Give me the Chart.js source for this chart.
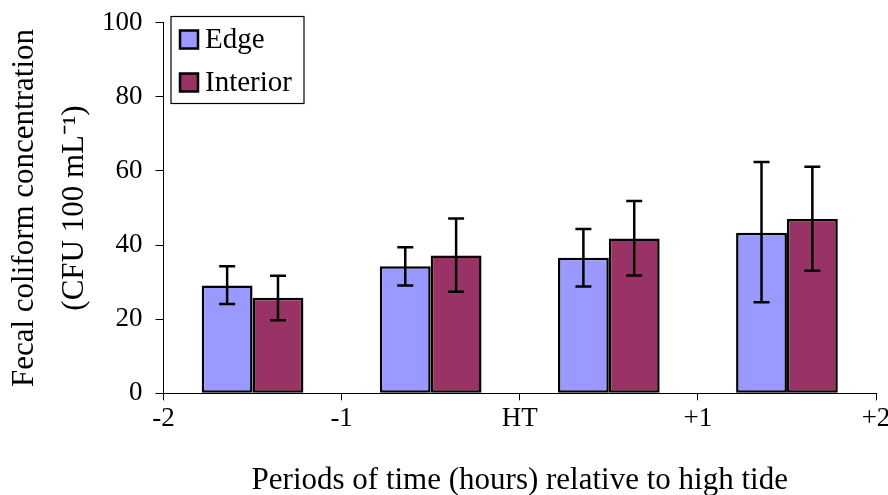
<!DOCTYPE html>
<html>
<head>
<meta charset="utf-8">
<script src="https://cdn.jsdelivr.net/npm/chart.js@4/dist/chart.umd.min.js"></script>
<style>
html,body{margin:0;padding:0;background:#fff;}
#wrap{width:888px;height:495px;position:relative;}
</style>
</head>
<body>
<div id="wrap"><canvas id="c" width="888" height="495"></canvas></div>
<script>
const categories = ['-2 to -1', '-1 to HT', 'HT to +1', '+1 to +2'];
const tickLabels = ['-2', '-1', 'HT', '+1', '+2'];
const edgeValues = [29.1, 34.3, 36.6, 43.3];
const edgeLow = [24.1, 29.1, 28.8, 24.6];
const edgeHigh = [34.3, 39.4, 44.3, 62.4];
const interiorValues = [25.8, 37.2, 41.8, 47.0];
const interiorLow = [19.7, 27.4, 31.8, 33.1];
const interiorHigh = [31.7, 47.2, 51.9, 61.1];
const seriesNames = ['Edge', 'Interior'];
const yTitle = ['Fecal coliform concentration', '(CFU 100 mL\u207B\u00B9)'];
const xTitle = 'Periods of time (hours) relative to high tide';

const FONT = "'Liberation Serif', 'Times New Roman', serif";

const errorBars = {
  id: 'errorBars',
  afterDatasetsDraw(chart) {
    const ctx = chart.ctx;
    const y = chart.scales.y;
    const ranges = [[edgeLow, edgeHigh], [interiorLow, interiorHigh]];
    ctx.save();
    ctx.strokeStyle = '#000';
    ctx.lineWidth = 2.5;
    ranges.forEach((r, di) => {
      const meta = chart.getDatasetMeta(di);
      meta.data.forEach((bar, i) => {
        const x = bar.x;
        const yl = y.getPixelForValue(r[0][i]);
        const yh = y.getPixelForValue(r[1][i]);
        ctx.beginPath();
        ctx.moveTo(x, yl); ctx.lineTo(x, yh);
        ctx.moveTo(x - 8, yl); ctx.lineTo(x + 8, yl);
        ctx.moveTo(x - 8, yh); ctx.lineTo(x + 8, yh);
        ctx.stroke();
      });
    });
    ctx.restore();
  }
};

const boxLegend = {
  id: 'boxLegend',
  afterDraw(chart) {
    const ctx = chart.ctx;
    ctx.save();
    ctx.strokeStyle = '#000';
    ctx.lineWidth = 1.2;
    ctx.fillStyle = '#fff';
    ctx.fillRect(171, 16.5, 133, 87);
    ctx.strokeRect(171, 16.5, 133, 87);
    const rows = [39.5, 82.5];
    chart.data.datasets.forEach((ds, i) => {
      const cy = rows[i];
      ctx.fillStyle = ds.backgroundColor;
      ctx.fillRect(180, cy - 9, 18, 18);
      ctx.lineWidth = 2.5;
      ctx.strokeRect(180, cy - 9, 18, 18);
      ctx.fillStyle = '#000';
      ctx.font = "29px " + FONT;
      ctx.textBaseline = 'middle';
      ctx.textAlign = 'left';
      ctx.fillText(ds.label, 205, cy + 1);
    });
    ctx.restore();
  }
};

new Chart(document.getElementById('c'), {
  type: 'bar',
  data: {
    labels: categories,
    datasets: [
      { label: seriesNames[0], data: edgeValues, backgroundColor: '#9999ff', borderColor: '#000', borderWidth: 2.5, borderSkipped: false },
      { label: seriesNames[1], data: interiorValues, backgroundColor: '#993366', borderColor: '#000', borderWidth: 2.5, borderSkipped: false }
    ]
  },
  options: {
    responsive: false,
    animation: false,
    events: [],
    layout: { padding: { left: 0, right: 12, top: 22.7, bottom: 0 } },
    datasets: { bar: { categoryPercentage: 0.571, barPercentage: 1 } },
    plugins: { legend: { display: false }, tooltip: { enabled: false } },
    scales: {
      x: { type: 'category', display: false, offset: true },
      x2: {
        type: 'linear', axis: 'x', position: 'bottom', min: -2, max: 2,
        offset: false,
        afterFit(s) { s.height = 101.7; s.paddingLeft = 0; s.paddingRight = 0; },
        ticks: { stepSize: 1, padding: 2, color: '#000', font: { family: FONT, size: 27 },
          callback: (v, i) => tickLabels[i] },
        grid: { offset: false, drawOnChartArea: false, drawTicks: true, tickLength: 7, color: '#000', lineWidth: 1 },
        border: { color: '#000', width: 1 },
        title: { display: true, text: xTitle, color: '#000', font: { family: FONT, size: 31, lineHeight: '28px' }, padding: { top: 0, bottom: 0 } }
      },
      y: {
        min: 0, max: 100,
        afterFit(s) { s.width = 163.5; s.paddingTop = 0; s.paddingBottom = 0; },
        ticks: { stepSize: 20, padding: 13, color: '#000', font: { family: FONT, size: 27 } },
        grid: { drawOnChartArea: false, tickLength: 8, color: '#000', lineWidth: 1 },
        border: { color: '#000', width: 1 },
        title: { display: true, text: yTitle, color: '#000', font: { family: FONT, size: 31, lineHeight: '50px' }, padding: { top: 0, bottom: 0 } }
      }
    }
  },
  plugins: [errorBars, boxLegend]
});
</script>
</body>
</html>
